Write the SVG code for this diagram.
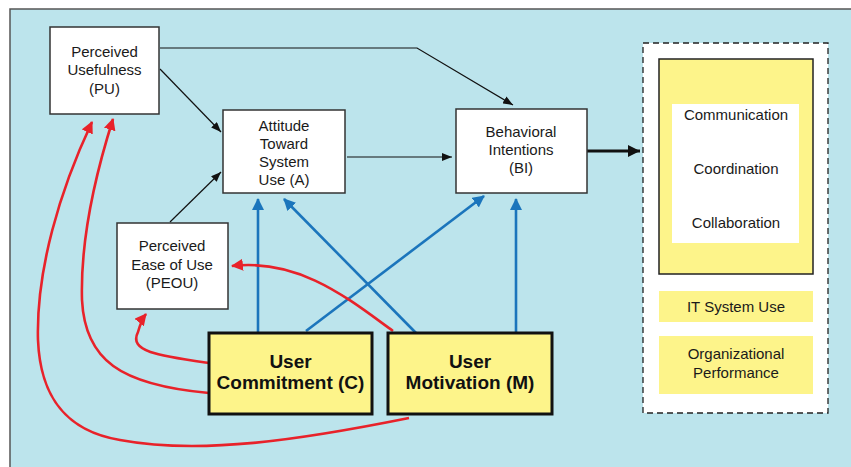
<svg xmlns="http://www.w3.org/2000/svg" width="851" height="467" viewBox="0 0 851 467">
<style>
.t{font-family:"Liberation Sans",Arial,sans-serif;font-size:15px;fill:#1a1a1a;text-anchor:middle}
.b{font-family:"Liberation Sans",Arial,sans-serif;font-size:19px;font-weight:bold;fill:#111;text-anchor:middle}
.box{fill:#fff;stroke:#333;stroke-width:1.5}
.ybox{fill:#fdf48a;stroke:#111;stroke-width:3}
.blk{fill:none;stroke:#111;stroke-width:1.2}
.blu{fill:none;stroke:#1b75bc;stroke-width:2.6}
.red{fill:none;stroke:#e8222a;stroke-width:2.6}
</style>
<defs>
<marker id="ak" markerUnits="userSpaceOnUse" viewBox="0 0 10 8" markerWidth="10" markerHeight="8" refX="10" refY="4" orient="auto"><path d="M0,0 L10,4 L0,8 z" fill="#111"/></marker>
<marker id="akb" markerUnits="userSpaceOnUse" viewBox="0 0 12 12" markerWidth="12" markerHeight="12" refX="12" refY="6" orient="auto"><path d="M0,0 L12,6 L0,12 z" fill="#111"/></marker>
<marker id="ab" markerUnits="userSpaceOnUse" viewBox="0 0 12 12" markerWidth="12" markerHeight="12" refX="11" refY="6" orient="auto"><path d="M0,0 L12,6 L0,12 z" fill="#1b75bc"/></marker>
<marker id="ar" markerUnits="userSpaceOnUse" viewBox="0 0 12 12" markerWidth="12" markerHeight="12" refX="11" refY="6" orient="auto"><path d="M0,0 L12,6 L0,12 z" fill="#e8222a"/></marker>
</defs>
<rect x="0" y="0" width="851" height="467" fill="#fff"/>
<rect x="10" y="9" width="841" height="458" fill="#bce4ec"/>
<path d="M10,467 V9 H851" fill="none" stroke="#555" stroke-width="1.5"/>

<g id="connectors">
<line class="blk" x1="160" y1="69" x2="221" y2="132" marker-end="url(#ak)"/>
<path class="blk" d="M160,48 H417 L513,105" marker-end="url(#ak)"/>
<line class="blk" x1="170" y1="222" x2="221" y2="172" marker-end="url(#ak)"/>
<line class="blk" x1="347" y1="157" x2="452" y2="157" marker-end="url(#ak)"/>
<line x1="587" y1="151" x2="640" y2="151" stroke="#111" stroke-width="3" marker-end="url(#akb)"/>
<line class="blu" x1="258" y1="333" x2="258" y2="199" marker-end="url(#ab)"/>
<line class="blu" x1="416" y1="333" x2="284" y2="199" marker-end="url(#ab)"/>
<line class="blu" x1="306" y1="331" x2="484" y2="196" marker-end="url(#ab)"/>
<line class="blu" x1="516" y1="333" x2="516" y2="199" marker-end="url(#ab)"/>
<path class="red" d="M393,331 C350,300 300,258 232,266" marker-end="url(#ar)"/>
<path class="red" d="M209,363 C160,356 128,352 138,332 C140,325 142,319 146,314" marker-end="url(#ar)"/>
<path class="red" d="M209,393 C120,385 85,360 82,300 C80,230 100,160 113,119" marker-end="url(#ar)"/>
<path class="red" d="M409,418 C300,440 200,455 120,440 C60,430 40,390 38,340 C36,270 60,190 92,122" marker-end="url(#ar)"/>
</g>

<g id="pu">
<rect class="box" x="50" y="27" width="109" height="87"/>
<text class="t" x="104.5" y="57">Perceived</text>
<text class="t" x="104.5" y="75">Usefulness</text>
<text class="t" x="104.5" y="94">(PU)</text>
</g>
<g id="attitude">
<rect class="box" x="223" y="110" width="122" height="83"/>
<text class="t" x="284" y="131">Attitude</text>
<text class="t" x="284" y="149">Toward</text>
<text class="t" x="284" y="167">System</text>
<text class="t" x="284" y="185">Use (A)</text>
</g>
<g id="bi">
<rect class="box" x="456" y="109" width="131" height="84"/>
<text class="t" x="521" y="137">Behavioral</text>
<text class="t" x="521" y="155">Intentions</text>
<text class="t" x="521" y="173">(BI)</text>
</g>
<g id="peou">
<rect class="box" x="117" y="223" width="111" height="86"/>
<text class="t" x="172" y="251">Perceived</text>
<text class="t" x="172" y="270">Ease of Use</text>
<text class="t" x="172" y="288">(PEOU)</text>
</g>
<g id="commitment">
<rect class="ybox" x="209" y="333" width="163" height="81"/>
<text class="b" x="290.5" y="368">User</text>
<text class="b" x="290.5" y="389">Commitment (C)</text>
</g>
<g id="motivation">
<rect class="ybox" x="388" y="333" width="164" height="81"/>
<text class="b" x="470" y="368">User</text>
<text class="b" x="470" y="389">Motivation (M)</text>
</g>
<g id="outcomes">
<rect x="643" y="43" width="185" height="370" fill="#fff" stroke="#222" stroke-width="1.3" stroke-dasharray="6,4"/>
<rect x="659" y="59" width="154" height="215" fill="#fdf48a" stroke="#222" stroke-width="1.5"/>
<rect x="672" y="104" width="127" height="139" fill="#fff"/>
<text class="t" x="736" y="120">Communication</text>
<text class="t" x="736" y="174">Coordination</text>
<text class="t" x="736" y="228">Collaboration</text>
<rect x="659" y="291" width="154" height="31" fill="#fdf48a"/>
<text class="t" x="736" y="312">IT System Use</text>
<rect x="659" y="336" width="154" height="58" fill="#fdf48a"/>
<text class="t" x="736" y="359">Organizational</text>
<text class="t" x="736" y="378">Performance</text>
</g>
</svg>
